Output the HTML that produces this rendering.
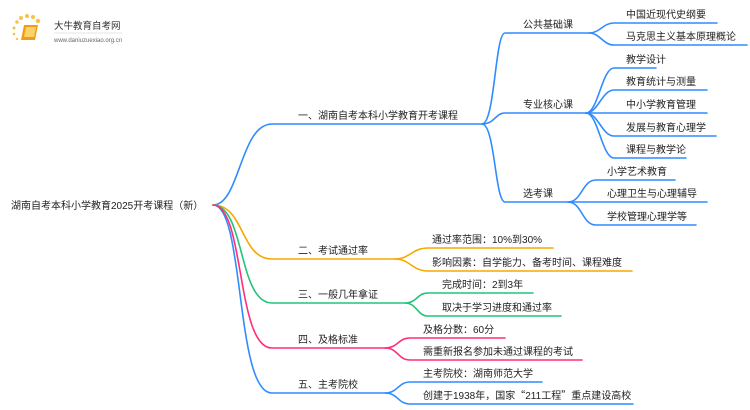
<!DOCTYPE html>
<html><head><meta charset="utf-8"><style>
html,body{margin:0;padding:0;background:#fff;width:750px;height:410px;overflow:hidden}
svg text{font-family:"Liberation Sans","Noto Sans CJK SC",sans-serif;font-size:10px;fill:#222}
.cjk{font-family:"Noto Sans CJK SC",sans-serif}
</style></head><body>
<svg width="750" height="410" viewBox="0 0 750 410" xmlns="http://www.w3.org/2000/svg">
<g fill="#f7c24a">
<circle cx="17" cy="22" r="1.8"/><circle cx="21" cy="18" r="2"/><circle cx="27" cy="16" r="2"/><circle cx="33" cy="17" r="2"/><circle cx="38" cy="21" r="2.2"/><circle cx="14" cy="28" r="1.5"/><circle cx="14" cy="34" r="1.3"/><circle cx="17" cy="39" r="1.2"/>
</g>
<path d="M24 25 L38 25 L35 40 L21 40 Z" fill="#f39c12"/>
<path d="M26 27 L36 27 L34 37 L24 37 Z" fill="#fbd36b"/>
<text x="54" y="29" style="font-size:9.5px;fill:#333">大牛教育自考网</text>
<text x="54" y="42" style="font-size:6px;fill:#666">www.daniuzuexiao.org.cn</text>
<line x1="54" y1="33" x2="122" y2="33" stroke="#ccc" stroke-width="0.6"/>

<text x="11" y="209">湖南自考本科小学教育2025开考课程（新）</text>

<g fill="none" stroke-width="1.6" stroke-linecap="round">
<g stroke="#2f8cff">
<path d="M213 205 C240 205 240 124 272 124 L482 124"/>
<path d="M482 124 C495 124 495 33 505 33 L589 33"/>
<path d="M482 124 C495 124 495 113 505 113 L586 113"/>
<path d="M482 124 C495 124 495 202 505 202 L568 202"/>
<path d="M589 33 C600 33 603 23 614 23 L717 23"/>
<path d="M589 33 C600 33 603 45 614 45 L747 45"/>
<path d="M586 113 C598 113 602 68 614 68 L656 68"/>
<path d="M586 113 C598 113 602 90 614 90 L707 90"/>
<path d="M586 113 L707 113"/>
<path d="M586 113 C598 113 602 136 614 136 L716 136"/>
<path d="M586 113 C598 113 602 158 614 158 L686 158"/>
<path d="M568 202 C582 202 582 180 596 180 L675 180"/>
<path d="M568 202 L707 202"/>
<path d="M568 202 C582 202 582 225 596 225 L696 225"/>
<path d="M213 205 C245 205 235 393 272 393 L385 393"/>
<path d="M385 393 C398 393 398 382 410 382 L542 382"/>
<path d="M385 393 C398 393 398 404 410 404 L633 404"/>
</g>
<g stroke="#f5a800">
<path d="M213 205 C245 205 240 259 272 259 L395 259"/>
<path d="M395 259 C410 259 412 248 428 248 L553 248"/>
<path d="M395 259 C410 259 412 271 428 271 L632 271"/>
</g>
<g stroke="#22c47a">
<path d="M213 205 C245 205 238 303 272 303 L405 303"/>
<path d="M405 303 C417 303 417 293 428 293 L533 293"/>
<path d="M405 303 C417 303 417 316 428 316 L561 316"/>
</g>
<g stroke="#ff2d7a">
<path d="M213 205 C245 205 236 348 272 348 L385 348"/>
<path d="M385 348 C398 348 398 338 410 338 L505 338"/>
<path d="M385 348 C398 348 398 360 410 360 L582 360"/>
</g>
</g>

<text x="298" y="119">一、湖南自考本科小学教育开考课程</text>
<text x="523" y="28">公共基础课</text>
<text x="523" y="108">专业核心课</text>
<text x="523" y="197">选考课</text>
<text x="626" y="18">中国近现代史纲要</text>
<text x="626" y="40">马克思主义基本原理概论</text>
<text x="626" y="63">教学设计</text>
<text x="626" y="85">教育统计与测量</text>
<text x="626" y="108">中小学教育管理</text>
<text x="626" y="131">发展与教育心理学</text>
<text x="626" y="153">课程与教学论</text>
<text x="607" y="175">小学艺术教育</text>
<text x="607" y="197">心理卫生与心理辅导</text>
<text x="607" y="220">学校管理心理学等</text>

<text x="298" y="254">二、考试通过率</text>
<text x="432" y="243">通过率范围：10%到30%</text>
<text x="432" y="266">影响因素：自学能力、备考时间、课程难度</text>
<text x="298" y="298">三、一般几年拿证</text>
<text x="442" y="288">完成时间：2到3年</text>
<text x="442" y="311">取决于学习进度和通过率</text>
<text x="298" y="343">四、及格标准</text>
<text x="423" y="333">及格分数：60分</text>
<text x="423" y="355">需重新报名参加未通过课程的考试</text>
<text x="298" y="388">五、主考院校</text>
<text x="423" y="377">主考院校：湖南师范大学</text>
<text x="423" y="399">创建于1938年，国家<tspan class="cjk">“</tspan>211工程<tspan class="cjk">”</tspan>重点建设高校</text>
</svg>
</body></html>
